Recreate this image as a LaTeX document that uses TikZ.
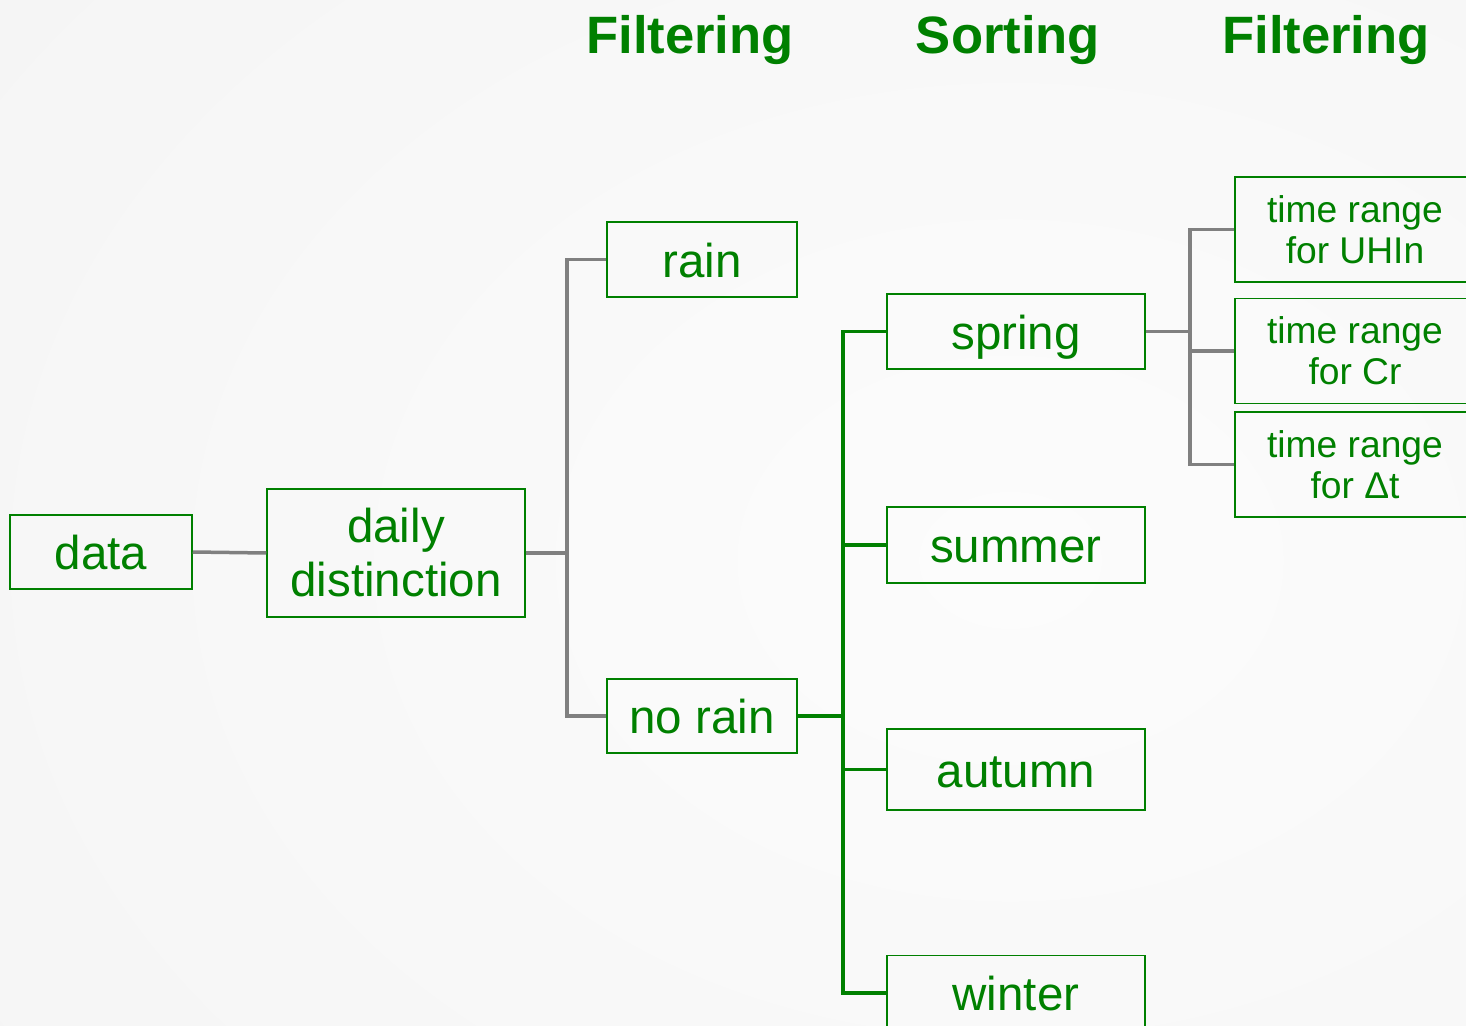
\documentclass[tikz,border=0pt]{standalone}
\usepackage{fontspec}
\setmainfont{Liberation Sans}
\usepackage{tikz}
\usepackage{xcolor}
\definecolor{treegreen}{HTML}{008000}
\definecolor{treegray}{HTML}{808080}
\definecolor{bgouter}{HTML}{F1F1F1}
\definecolor{bginner}{HTML}{FCFCFC}

\begin{document}
\begin{tikzpicture}[x=0.5pt, y=-0.5pt,
    box/.style={shape=rectangle, draw=treegreen, line width=0.75pt, text=treegreen, inner sep=0pt, align=center, font=\fontsize{23.75}{27}\selectfont},
    onebox/.style={box, text height=17.8pt, text depth=0pt},
    seasonbox/.style={onebox, minimum width=129pt},
    timebox/.style={box, minimum width=120pt, minimum height=52.5pt, font=\fontsize{18.6}{20.5}\selectfont},
    head/.style={anchor=base, text=treegreen, font=\fontsize{26.3}{30}\selectfont\bfseries},
    grayline/.style={draw=treegray, line width=1.75pt},
    greenline/.style={draw=treegreen, line width=1.75pt}]
    \useasboundingbox (0,0) rectangle (1466,1026);
    \fill[bgouter] (0,0) rectangle (1466,1026);
    \begin{scope}
      \clip (0,0) rectangle (1466,1026);
      \shade[inner color=bginner, outer color=bgouter] (1010,560) ellipse (2000 and 1500);
    \end{scope}

    \node[head] (h1) at (690,54) {Filtering};
    \node[head] (h2) at (1008,54) {Sorting};
    \node[head] (h3) at (1326,54) {Filtering};

    \node[onebox, minimum width=91pt, minimum height=37pt] (data) at (101,552) {data};
    \node[box, minimum width=129pt, minimum height=64pt] (dd) at (396,553) {daily\\distinction};

    \node[onebox, minimum width=95pt, minimum height=37.5pt] (rain) at (702,259.5) {rain};
    \node[onebox, minimum width=95pt, minimum height=37pt] (norain) at (702,716) {no rain};

    \node[seasonbox, minimum height=37.5pt] (spring) at (1016,331.5) {spring};
    \node[seasonbox, minimum height=38pt] (summer) at (1016,545) {summer};
    \node[seasonbox, minimum height=40.5pt] (autumn) at (1016,769.5) {autumn};
    \node[seasonbox, minimum height=37.5pt] (winter) at (1016,993) {winter};

    \node[timebox] (uhin) at (1355,229.5) {time range\\for UHIn};
    \node[timebox] (cr) at (1355,351) {time range\\for Cr};
    \node[timebox] (dt) at (1355,464.5) {time range\\for Δt};

    \draw[grayline] (data.east) -- (dd.west);
    \draw[grayline] (dd.east) -- ++(41,0) coordinate (f1);
    \draw[grayline] (rain.west) -| (f1) |- (norain.west);

    \draw[greenline] (norain.east) -- ++(45,0) coordinate (f2);
    \draw[greenline] (spring.west) -| (f2) |- (winter.west);
    \draw[greenline] (f2 |- summer.west) -- (summer.west);
    \draw[greenline] (f2 |- autumn.west) -- (autumn.west);

    \draw[grayline] (spring.east) -- ++(44,0) coordinate (f3);
    \draw[grayline] (uhin.west) -| (f3) |- (dt.west);
    \draw[grayline] (f3 |- cr.west) -- (cr.west);
  \end{tikzpicture}
\end{document}
